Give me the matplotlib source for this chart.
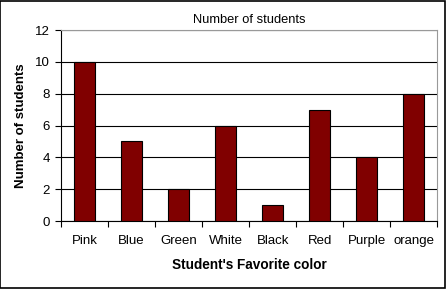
import matplotlib.pyplot as plt
import numpy as np

# Chart data
colors = ['Pink', 'Blue', 'Green', 'White', 'Black', 'Red', 'Purple', 'orange']
students = [10, 5, 2, 6, 1, 7, 4, 8]
y_ticks = [0, 2, 4, 6, 8, 10, 12]

plt.rcParams['font.family'] = ['Liberation Sans', 'DejaVu Sans']

fig = plt.figure(figsize=(4.46, 2.89), dpi=100)
# outer black frame of the chart
fig.patches.append(plt.Rectangle((0.001, 0.002), 0.996, 0.995, transform=fig.transFigure,
                                 fill=False, edgecolor='black', linewidth=1.2))
ax = fig.add_axes([0.137, 0.235, 0.843, 0.661])

x = np.arange(len(colors))
ax.bar(x, students, width=0.44, color='#800000', edgecolor='black', linewidth=0.8, zorder=3)

ax.set_xlim(-0.5, len(colors) - 0.5)
ax.set_ylim(0, 12)
ax.set_yticks(y_ticks)
ax.yaxis.grid(True, color='black', linewidth=0.8, zorder=1)

# ticks between categories, labels centred under bars
ax.set_xticks(np.arange(-0.5, len(colors)), minor=False)
ax.set_xticklabels([])
ax.set_xticks(x, minor=True)
ax.set_xticklabels(colors, minor=True)
ax.tick_params(axis='x', which='major', direction='out', length=4, width=0.8)
ax.tick_params(axis='x', which='minor', length=0, pad=10, labelsize=9.5)
ax.tick_params(axis='y', direction='out', length=4, width=0.8, labelsize=9.5, pad=4)

for side in ['top', 'right']:
    ax.spines[side].set_color('#999999')
for side in ['left', 'bottom']:
    ax.spines[side].set_color('black')

ax.set_title('Number of students', fontsize=9.3, pad=5)
ax.set_ylabel('Number of students', fontsize=9.5, fontweight='bold', labelpad=6)
ax.set_xlabel("Student's Favorite color", fontsize=9.8, fontweight='bold', labelpad=8)

fig.savefig('out.png', dpi=100)
